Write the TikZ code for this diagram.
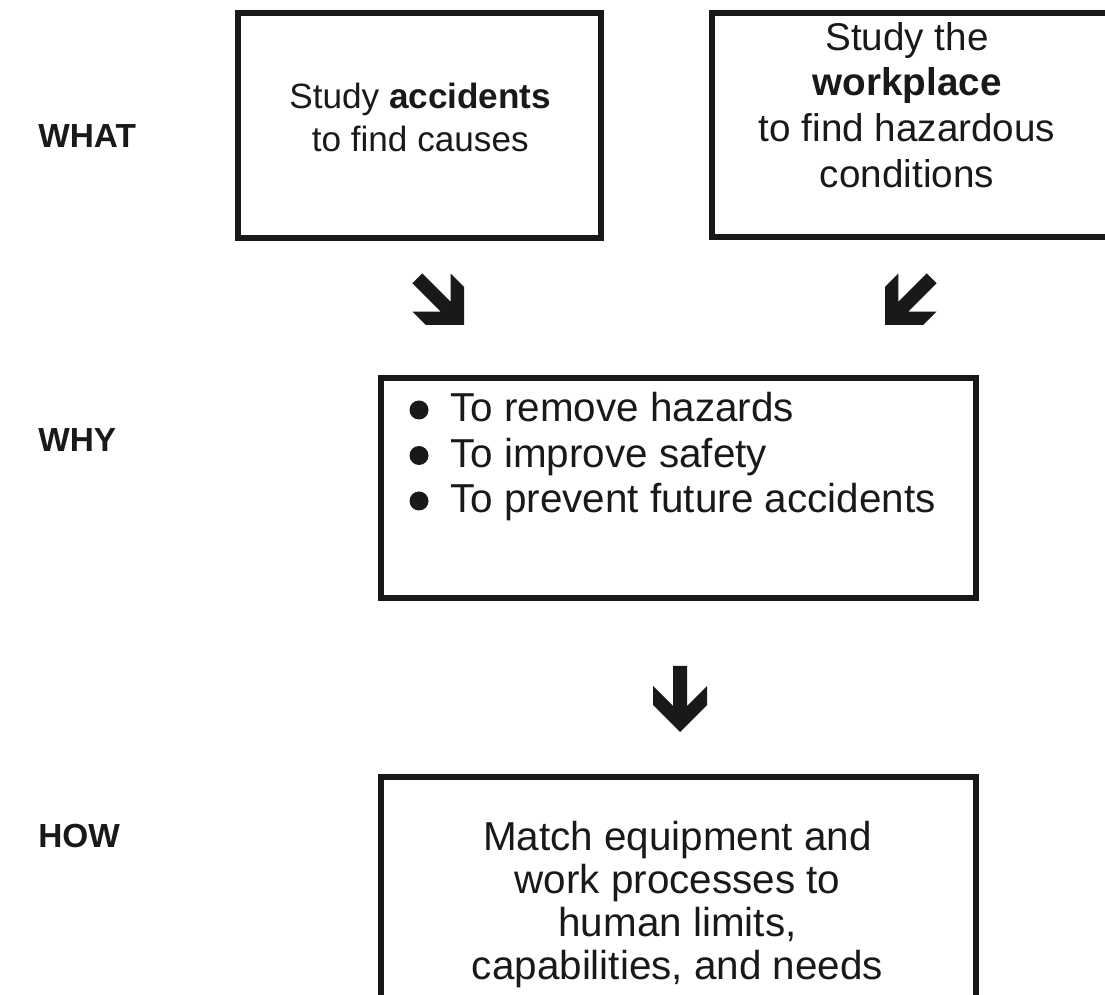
\documentclass[tikz,border=0pt]{standalone}
\usepackage{fontspec}
\setmainfont{Liberation Sans}
\usepackage{tikz}
\usetikzlibrary{calc}

\tikzset{
	kutija/.style={draw=black!90, line width=0.12cm, inner sep=0pt},
	tekst/.style={font=\fontsize{23}{24.6}\selectfont, align=center, text=black!90, inner sep=0pt},
	naslov/.style={font=\fontsize{19}{22}\selectfont\bfseries, anchor=west, text=black!90, inner sep=0pt},
	tocka/.style={circle, fill=black!90, inner sep=0pt, minimum size=0.38cm},
	strelica/.pic={
		\fill[black!90] (0,0) -- (-27,27) -- (-27,46) -- (-7,26) -- (-7,66)
			-- (7,66) -- (7,26) -- (27,46) -- (27,27) -- cycle;
	}
}

\begin{document}
\begin{tikzpicture}[x=0.02cm, y=0.02cm]
			\useasboundingbox (0,0) rectangle (1105,994);
			\clip (0,0) rectangle (1105,994);

			\node (sidro) at (0,0) {};

			% WHAT
			\node[kutija, minimum width=7.27cm, minimum height=4.51cm] (K1) at ($(sidro)+(419.25,868.75)$) {};
			\node[kutija, minimum width=7.96cm, minimum height=4.48cm] (K2) at ($(sidro)+(911,869)$) {};
			\node[naslov] (what) at ($(sidro)+(38,858)$) {WHAT};
			\node[tekst, font=\fontsize{20}{24.4}\selectfont] (t1) at ($(K1) + (1,8)$) {Study \textbf{accidents}\\to find causes};
			\node[tekst, font=\fontsize{22}{26}\selectfont] (t2) at ($(K2) + (-4,20)$) {Study the\\\textbf{workplace}\\to find hazardous\\conditions};

			% WHY
			\node[kutija, minimum width=11.9cm, minimum height=4.4cm] (K3) at ($(sidro)+(678.5,506)$) {};
			\node[naslov] (why) at ($(sidro)+(38,554)$) {WHY};
			\node[tekst, anchor=base west] (r1) at ($(sidro)+(450,572)$) {To remove hazards};
			\node[tekst, anchor=base west] (r2) at ($(r1.base west)+(0,-45.5)$) {To improve safety};
			\node[tekst, anchor=base west] (r3) at ($(r2.base west)+(0,-45.5)$) {To prevent future accidents};
			\node[tocka] (b1) at ($(r1.base west)+(-31,12)$) {};
			\node[tocka] (b2) at ($(r2.base west)+(-31,12)$) {};
			\node[tocka] (b3) at ($(r3.base west)+(-31,12)$) {};

			% HOW
			\node[kutija, minimum width=11.9cm, minimum height=4.66cm] (K4) at ($(sidro)+(678.5,100.5)$) {};
			\node[naslov] (how) at ($(sidro)+(38,158)$) {HOW};
			\node[tekst] (t4) at ($(K4) + (-1,-11)$) {Match equipment and\\work processes to\\human limits,\\capabilities, and needs};

			% strelice
			\coordinate (s1) at ($(sidro)+(464,669)$);
			\coordinate (s2) at ($(sidro)+(885,669)$);
			\coordinate (s3) at ($(sidro)+(680,262)$);
			\pic[rotate=45] at (s1) {strelica};
			\pic[rotate=-45] at (s2) {strelica};
			\pic at (s3) {strelica};

		\end{tikzpicture}
\end{document}
